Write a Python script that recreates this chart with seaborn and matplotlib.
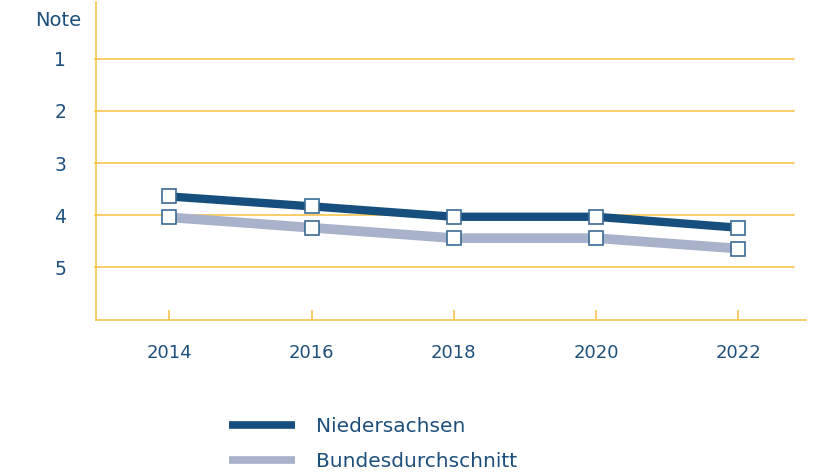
import matplotlib
matplotlib.use("Agg")
import matplotlib.pyplot as plt
from matplotlib.lines import Line2D
import seaborn as sns
import pandas as pd

sns.set_theme(style="white")
plt.rcParams["font.family"] = ["DejaVu Sans"]

# data
years = [2014, 2016, 2018, 2020, 2022]
niedersachsen = [3.64, 3.83, 4.03, 4.03, 4.24]
bundesschnitt = [4.04, 4.24, 4.44, 4.44, 4.64]
y_ticks = [1, 2, 3, 4, 5]
series_names = ["Niedersachsen", "Bundesdurchschnitt"]

TEXT = "#1d4f7c"
DARK = "#164f7e"
GREY = "#a9b2cb"
GOLD = "#f6c54e"
EDGE = "#3b6a96"

df_nds = pd.DataFrame({"year": years, "note": niedersachsen})
df_bund = pd.DataFrame({"year": years, "note": bundesschnitt})

fig = plt.figure(figsize=(8.24, 4.73), dpi=100)
ax = fig.add_axes([96 / 824, 1 - 320 / 473, (806 - 96) / 824, (320 - 2) / 473])

for yv in y_ticks:
    ax.axhline(yv, xmin=0, xmax=(794 - 96) / (806 - 96), color=GOLD, lw=1.2, zorder=1)

##Bundesdurchschnitt first so Niedersachsen sits on top
sns.lineplot(data=df_bund, x="year", y="note", ax=ax, color=GREY, linewidth=7,
             marker="s", markersize=9.5, markerfacecolor="white",
             markeredgecolor=EDGE, markeredgewidth=1.2, zorder=3,
             solid_capstyle="butt", solid_joinstyle="miter")
sns.lineplot(data=df_nds, x="year", y="note", ax=ax, color=DARK, linewidth=6,
             marker="s", markersize=9.5, markerfacecolor="white",
             markeredgecolor=EDGE, markeredgewidth=1.2, zorder=4,
             solid_capstyle="butt", solid_joinstyle="miter")

ax.set_xlim(2012.97, 2022.95)
ax.set_ylim(6.01, -0.09)
ax.set_xticks(years)
ax.set_yticks(y_ticks)
ax.set_xlabel("")
ax.set_ylabel("")

for s in ["top", "right"]:
    ax.spines[s].set_visible(False)
for s in ["left", "bottom"]:
    ax.spines[s].set_color(GOLD)
    ax.spines[s].set_linewidth(1.2)

ax.tick_params(axis="x", direction="in", length=7.5, width=1.2, color=GOLD,
               labelsize=13, labelcolor=TEXT, pad=17, bottom=True)
ax.tick_params(axis="y", direction="out", length=1.5, width=1.2, color=GOLD,
               labelsize=13.5, labelcolor=TEXT, pad=20, left=True)

fig.text(58 / 824, 1 - 20 / 473, "Note", ha="center", va="center",
         fontsize=14, color=TEXT)

handles = [Line2D([0], [0], color=DARK, lw=5.5, solid_capstyle="butt"),
           Line2D([0], [0], color=GREY, lw=5.5, solid_capstyle="butt")]
leg = fig.legend(handles, series_names, loc="upper left",
                 bbox_to_anchor=(229 / 824, 1 - 417 / 473),
                 frameon=False, fontsize=14.5, handlelength=3.3,
                 handletextpad=1.0, labelspacing=0.8, borderpad=0,
                 borderaxespad=0)
for t in leg.get_texts():
    t.set_color(TEXT)

fig.savefig("out.png", dpi=100)
